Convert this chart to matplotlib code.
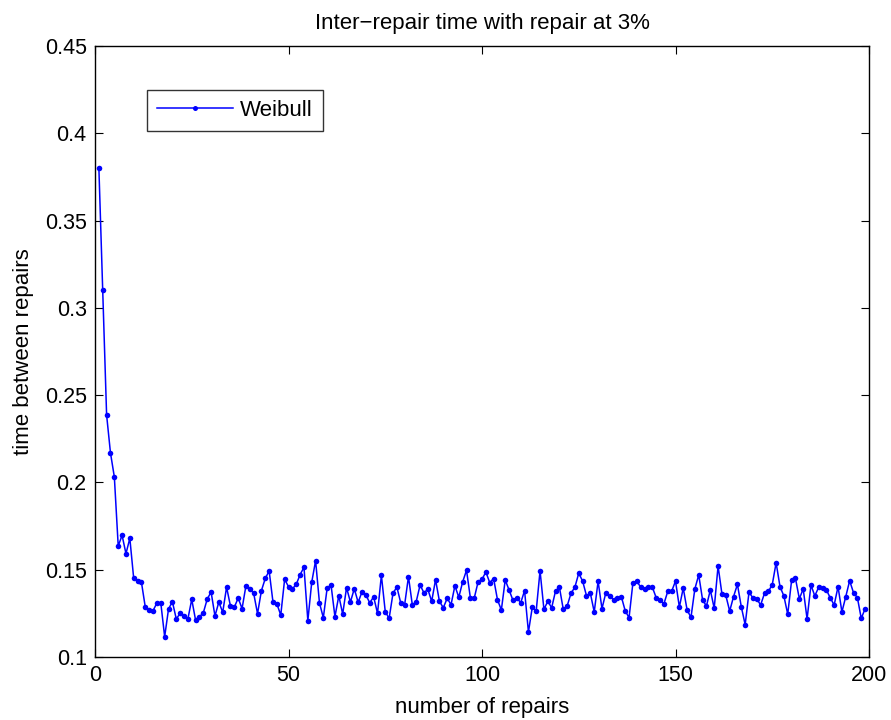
import matplotlib
matplotlib.use("Agg")
import matplotlib.pyplot as plt

repairs = list(range(1, 200))
weibull = [
    0.3803, 0.3100, 0.2386, 0.2169, 0.2031, 0.1636, 0.1697, 0.1592, 0.1680, 0.1450,
    0.1437, 0.1428, 0.1285, 0.1270, 0.1265, 0.1310, 0.1310, 0.1116, 0.1275, 0.1317,
    0.1218, 0.1250, 0.1237, 0.1218, 0.1330, 0.1210, 0.1230, 0.1254, 0.1332, 0.1372,
    0.1235, 0.1315, 0.1256, 0.1400, 0.1292, 0.1285, 0.1338, 0.1277, 0.1408, 0.1390,
    0.1365, 0.1248, 0.1380, 0.1450, 0.1493, 0.1313, 0.1304, 0.1240, 0.1445, 0.1403,
    0.1390, 0.1416, 0.1472, 0.1514, 0.1208, 0.1428, 0.1552, 0.1310, 0.1225, 0.1397,
    0.1411, 0.1231, 0.1351, 0.1246, 0.1397, 0.1315, 0.1391, 0.1313, 0.1374, 0.1355,
    0.1310, 0.1345, 0.1250, 0.1468, 0.1260, 0.1221, 0.1365, 0.1401, 0.1310, 0.1298,
    0.1460, 0.1298, 0.1317, 0.1412, 0.1368, 0.1388, 0.1319, 0.1443, 0.1319, 0.1282,
    0.1336, 0.1300, 0.1408, 0.1342, 0.1430, 0.1497, 0.1338, 0.1338, 0.1431, 0.1445,
    0.1487, 0.1426, 0.1449, 0.1328, 0.1269, 0.1441, 0.1384, 0.1325, 0.1340, 0.1310,
    0.1380, 0.1143, 0.1286, 0.1263, 0.1494, 0.1273, 0.1319, 0.1282, 0.1378, 0.1400,
    0.1273, 0.1292, 0.1365, 0.1400, 0.1480, 0.1435, 0.1351, 0.1365, 0.1258, 0.1434,
    0.1277, 0.1368, 0.1350, 0.1327, 0.1338, 0.1346, 0.1265, 0.1225, 0.1426, 0.1434,
    0.1400, 0.1388, 0.1401, 0.1401, 0.1340, 0.1325, 0.1304, 0.1376, 0.1376, 0.1435,
    0.1286, 0.1395, 0.1269, 0.1227, 0.1390, 0.1470, 0.1327, 0.1292, 0.1384, 0.1279,
    0.1521, 0.1361, 0.1353, 0.1263, 0.1346, 0.1416, 0.1288, 0.1185, 0.1372, 0.1338,
    0.1332, 0.1298, 0.1365, 0.1376, 0.1414, 0.1540, 0.1403, 0.1350, 0.1245, 0.1439,
    0.1450, 0.1334, 0.1390, 0.1218, 0.1412, 0.1350, 0.1400, 0.1393, 0.1384, 0.1338,
    0.1298, 0.1403, 0.1258, 0.1346, 0.1437, 0.1368, 0.1340, 0.1221, 0.1277,
]
x_ticks = [0, 50, 100, 150, 200]
y_ticks = [0.1, 0.15, 0.2, 0.25, 0.3, 0.35, 0.4, 0.45]
y_tick_labels = ["0.1", "0.15", "0.2", "0.25", "0.3", "0.35", "0.4", "0.45"]

plt.rcParams['font.family'] = ['Liberation Sans', 'DejaVu Sans']
fs = 16
tfs = 15.5

fig = plt.figure(figsize=(8.91, 7.2), dpi=100)
ax = fig.add_axes([95/891, 1-657/720, (869-95)/891, (657-46)/720])
ax.plot(repairs, weibull, color='#0000ff', lw=1.1, marker='o', ms=4,
        markeredgewidth=0, label='Weibull')
ax.set_xlim(0, 200)
ax.set_ylim(0.1, 0.45)
ax.set_xticks(x_ticks)
ax.set_yticks(y_ticks)
ax.set_yticklabels(y_tick_labels)
ax.tick_params(direction='in', top=True, right=True, labelsize=tfs, length=6,
               width=0.8, pad=6)
for s in ax.spines.values():
    s.set_linewidth(1.0)
ax.set_xlabel('number of repairs', fontsize=fs, labelpad=8)
ax.set_ylabel('time between repairs', fontsize=fs, labelpad=8)
ax.set_title('Inter\u2212repair time with repair at 3%', fontsize=fs, pad=12)
leg = ax.legend(loc='upper left', bbox_to_anchor=((147-95)/774, 1-(90-46)/611),
                fontsize=fs, frameon=True, fancybox=False, edgecolor='black',
                borderaxespad=0, handlelength=3.4, borderpad=0.45, handletextpad=0.35,
                markerscale=0.9)
leg.get_frame().set_linewidth(1.0)
fig.savefig('out.png', dpi=100)
